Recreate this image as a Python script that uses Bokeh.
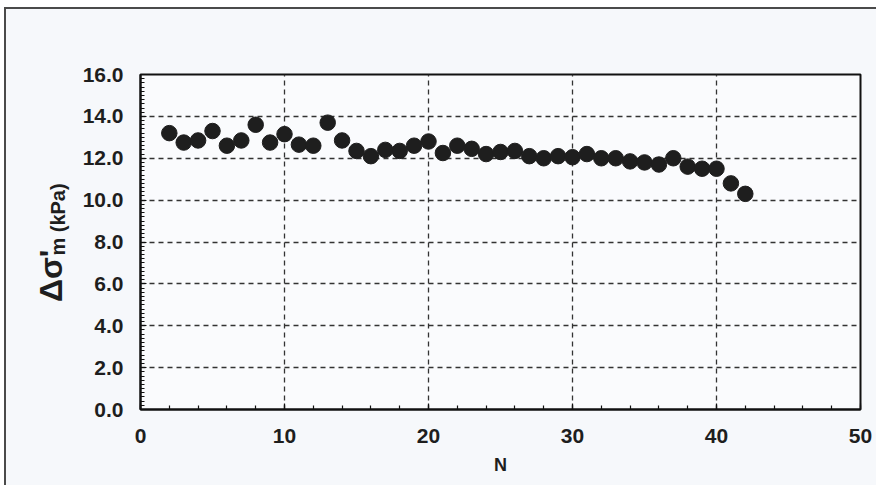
from bokeh.plotting import figure
from bokeh.layouts import row
from bokeh.models import (Range1d, FixedTicker, PrintfTickFormatter,
                          ColumnDataSource)
from bokeh.core.properties import value
from bokeh.embed import file_html
from bokeh.resources import INLINE

# Load cycle number and increment of mean stress (kPa)
n_cycles = list(range(2, 43))
delta_sigma_m = [13.2, 12.75, 12.85, 13.3, 12.6, 12.85, 13.6, 12.75, 13.15, 12.65,
                 12.6, 13.7, 12.85, 12.35, 12.1, 12.4, 12.35, 12.6, 12.8, 12.25,
                 12.6, 12.45, 12.2, 12.3, 12.35, 12.1, 12.0, 12.1, 12.05, 12.2,
                 12.0, 12.0, 11.85, 11.8, 11.7, 12.0, 11.6, 11.5, 11.5, 10.8,
                 10.3]
x_ticks = [0, 10, 20, 30, 40, 50]
y_ticks = [0, 2, 4, 6, 8, 10, 12, 14, 16]

FONT = "Liberation Sans"
INK = "#1e1e1e"
PAPER = "#f6f8fb"
PANEL_H = 476

# ---- main chart -------------------------------------------------------
p = figure(width=806, height=PANEL_H, output_backend="svg", toolbar_location=None,
           x_range=Range1d(0, 50), y_range=Range1d(0, 16),
           min_border_left=70, min_border_right=16,
           min_border_top=65, min_border_bottom=76)

p.border_fill_color = PAPER
p.background_fill_color = "#fafbfd"
p.outline_line_color = "#111111"
p.outline_line_width = 2

for g in (p.xgrid, p.ygrid):
    g.grid_line_color = "#333333"
    g.grid_line_dash = "5 4"
    g.grid_line_width = 1.3
p.xgrid.ticker = FixedTicker(ticks=x_ticks)
p.ygrid.ticker = FixedTicker(ticks=y_ticks)

p.xaxis.ticker = FixedTicker(ticks=x_ticks, minor_ticks=list(range(0, 51, 2)))
p.yaxis.ticker = FixedTicker(ticks=y_ticks,
                             minor_ticks=[i / 5 for i in range(0, 81)])
p.yaxis.formatter = PrintfTickFormatter(format="%.1f")
for ax in (p.xaxis, p.yaxis):
    ax.axis_line_color = "#111111"
    ax.axis_line_width = 2
    ax.major_tick_in = 6
    ax.major_tick_out = 0
    ax.minor_tick_in = 4
    ax.minor_tick_out = 0
    ax.major_tick_line_color = "#111111"
    ax.minor_tick_line_color = "#111111"
    ax.major_tick_line_width = 1.2
    ax.minor_tick_line_width = 1.2
    ax.major_label_text_font = FONT
    ax.major_label_text_font_style = "bold"
    ax.major_label_text_font_size = "21px"
    ax.major_label_text_color = INK
p.xaxis.major_label_standoff = 19
p.yaxis.major_label_standoff = 17

p.xaxis.axis_label = "N"
p.xaxis.axis_label_text_font = FONT
p.xaxis.axis_label_text_font_style = "bold"
p.xaxis.axis_label_text_font_size = "18px"
p.xaxis.axis_label_text_color = INK
p.xaxis.axis_label_standoff = 9

src = ColumnDataSource(dict(n=n_cycles, ds=delta_sigma_m))
p.scatter("n", "ds", source=src, size=15.5, fill_color=INK, line_color=INK)

# ---- y-axis title panel (title with subscript) ----------------------------
t = figure(width=64, height=PANEL_H, output_backend="svg", toolbar_location=None,
           x_range=Range1d(0, 64), y_range=Range1d(0, PANEL_H),
           min_border=0, x_axis_type=None, y_axis_type=None)
t.grid.visible = False
t.outline_line_color = None
t.border_fill_color = PAPER
t.background_fill_color = PAPER

t.text(x=[44], y=[190], text=["Δσ'"], angle=90, angle_units="deg",
       text_font=value(FONT), text_font_style="bold", text_font_size="32px",
       text_color=INK, text_align="center", text_baseline="middle")
t.text(x=[51], y=[270], text=["m (kPa)"], angle=90, angle_units="deg",
       text_font=value(FONT), text_font_style="bold", text_font_size="20px",
       text_color=INK, text_align="center", text_baseline="middle")

layout = row(t, p, spacing=0)
layout.margin = (7, 0, 0, 4)
layout.styles = {"border-left": "2px solid #4a4a4a",
                 "border-top": "2px solid #4a4a4a",
                 "background-color": PAPER}

open("out.html", "w").write(file_html(layout, INLINE))
